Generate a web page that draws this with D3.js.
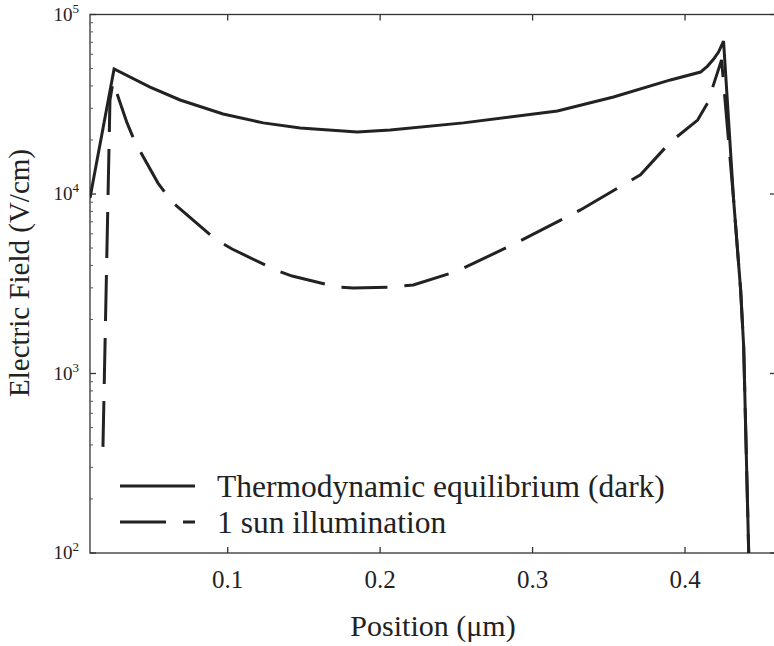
<!DOCTYPE html>
<html lang="en">

<head>
	<meta charset="utf-8">
	<title>Electric field profile</title>
	<script type="text/javascript" src="https://cdn.jsdelivr.net/npm/d3@7"></script>
	<style type="text/css">
		body { margin: 0; background: #fff; }
		text { font-family: "Liberation Serif", "Times New Roman", serif; fill: #222; }
	</style>
</head>

<body>
	<script type="text/javascript">
		//Width and height
		var w = 774;
		var h = 646;

		// data
		var darkX = [0.0100, 0.0258, 0.0494, 0.0691, 0.0973, 0.1236, 0.1479, 0.1853, 0.2070, 0.2550,
			0.3166, 0.3534, 0.3908, 0.4105, 0.4151, 0.4191, 0.4223, 0.4256, 0.4322, 0.4368,
			0.4388, 0.4421, 0.4430];
		var darkE = [9500, 49700, 39400, 33400, 27900, 24900, 23300, 22150, 22700, 24900,
			29000, 34700, 43200, 47800, 51600, 56500, 61800, 71100, 9270, 2920,
			1406, 100, 70];

		var sunX = [0.0185, 0.0231, 0.0251, 0.0343, 0.0395, 0.0546, 0.0638, 0.0921, 0.1032, 0.1315,
			0.1426, 0.1722, 0.1827, 0.2070, 0.2221, 0.2510, 0.2910, 0.3317, 0.3711, 0.3908,
			0.4086, 0.4151, 0.4243, 0.4322, 0.4368, 0.4388, 0.4421, 0.4430];
		var sunE = [390, 33400, 42100, 24900, 19500, 11500, 9020, 5610, 4940, 3780,
			3490, 3030, 2990, 3030, 3110, 3720, 5410, 8150, 12800, 19500,
			25800, 32100, 55900, 9270, 2920, 1406, 100, 70];

		var xTicks = [0.1, 0.2, 0.3, 0.4];
		var yTicks = [100, 1000, 10000, 100000];
		var legendLabels = ["Thermodynamic equilibrium (dark)", "1 sun illumination"];

		// plot box
		var pLeft = 90, pRight = 776, pTop = 14.5, pBottom = 553;

		// create scales
		var xScale = d3.scaleLinear()
			.domain([0.01, 0.46])
			.range([pLeft, pRight]);

		var yScale = d3.scaleLog()
			.domain([100, 100000])
			.range([pBottom, pTop]);

		//Create SVG element
		var svg = d3.select("body")
			.append("svg")
			.attr("width", w)
			.attr("height", h);

		svg.append("clipPath")
			.attr("id", "plotclip")
			.append("rect")
			.attr("x", pLeft)
			.attr("y", pTop)
			.attr("width", pRight - pLeft)
			.attr("height", pBottom - pTop);

		// frame
		svg.append("rect")
			.attr("x", pLeft)
			.attr("y", pTop)
			.attr("width", pRight - pLeft)
			.attr("height", pBottom - pTop)
			.attr("fill", "none")
			.attr("stroke", "#333")
			.attr("stroke-width", 1.3);

		// x ticks, bottom and top, pointing inward
		svg.append("g")
			.attr("transform", "translate(0," + pBottom + ")")
			.call(d3.axisBottom(xScale).tickValues(xTicks).tickSizeInner(-6).tickSizeOuter(0).tickFormat(d3.format(".1f")))
			.call(function (g) {
				g.select(".domain").remove();
				g.selectAll("line").attr("stroke", "#333").attr("stroke-width", 1.3);
				g.selectAll("text")
					.attr("y", 17)
					.attr("font-size", "25px")
					.attr("font-family", "Liberation Serif, serif")
					.attr("fill", "#222");
			});

		svg.append("g")
			.attr("transform", "translate(0," + pTop + ")")
			.call(d3.axisTop(xScale).tickValues(xTicks).tickSizeInner(-6).tickSizeOuter(0).tickFormat(""))
			.call(function (g) {
				g.select(".domain").remove();
				g.selectAll("line").attr("stroke", "#333").attr("stroke-width", 1.3);
			});

		// y ticks, left and right
		var minor = [];
		for (var dec = 100; dec < 100000; dec *= 10) {
			for (var k = 2; k < 10; k++) minor.push(dec * k);
		}

		svg.selectAll("line.minor")
			.data(minor)
			.enter()
			.append("line")
			.attr("class", "minor")
			.attr("x1", pLeft)
			.attr("x2", pLeft + 3)
			.attr("y1", function (d) { return yScale(d); })
			.attr("y2", function (d) { return yScale(d); })
			.attr("stroke", "#555")
			.attr("stroke-width", 1);

		svg.selectAll("line.ymajor")
			.data(yTicks)
			.enter()
			.append("line")
			.attr("class", "ymajor")
			.attr("x1", pLeft)
			.attr("x2", pLeft + 6)
			.attr("y1", function (d) { return yScale(d); })
			.attr("y2", function (d) { return yScale(d); })
			.attr("stroke", "#333")
			.attr("stroke-width", 1.3);

		svg.selectAll("line.yright")
			.data(yTicks)
			.enter()
			.append("line")
			.attr("class", "yright")
			.attr("x1", pRight - 6)
			.attr("x2", pRight)
			.attr("y1", function (d) { return yScale(d); })
			.attr("y2", function (d) { return yScale(d); })
			.attr("stroke", "#333")
			.attr("stroke-width", 1.3);

		var ylab = svg.selectAll("text.ylab")
			.data(yTicks)
			.enter()
			.append("text")
			.attr("class", "ylab")
			.attr("text-anchor", "end")
			.attr("x", pLeft - 11)
			.attr("y", function (d) { return yScale(d) + 6; })
			.attr("font-size", "19px");

		ylab.append("tspan").text("10");
		ylab.append("tspan")
			.attr("dy", -8)
			.attr("font-size", "13px")
			.text(function (d) { return Math.round(Math.log10(d)); });

		// axis titles
		svg.append("text")
			.attr("text-anchor", "middle")
			.attr("x", (pLeft + pRight) / 2)
			.attr("y", 636)
			.attr("font-size", "30px")
			.text("Position (\u03bcm)");

		svg.append("text")
			.attr("text-anchor", "middle")
			.attr("transform", "translate(29,273) rotate(-90)")
			.attr("font-size", "29px")
			.text("Electric Field (V/cm)");

		// curves
		var line = d3.line()
			.x(function (d) { return xScale(d[0]); })
			.y(function (d) { return yScale(d[1]); });

		var plot = svg.append("g").attr("clip-path", "url(#plotclip)");

		plot.append("path")
			.datum(d3.zip(darkX, darkE))
			.attr("d", line)
			.attr("fill", "none")
			.attr("stroke", "#222")
			.attr("stroke-width", 3)
			.attr("stroke-linejoin", "miter");

		plot.append("path")
			.datum(d3.zip(sunX, sunE))
			.attr("d", line)
			.attr("fill", "none")
			.attr("stroke", "#222")
			.attr("stroke-width", 3)
			.attr("stroke-dasharray", "46,17");

		// legend
		var legend = svg.selectAll("g.legend")
			.data(legendLabels)
			.enter()
			.append("g")
			.attr("class", "legend")
			.attr("transform", function (d, i) { return "translate(120," + (486 + i * 36) + ")"; });

		legend.append("line")
			.attr("x1", 0)
			.attr("x2", 75)
			.attr("stroke", "#222")
			.attr("stroke-width", 3)
			.attr("stroke-dasharray", function (d, i) { return i === 0 ? null : "46,17"; });

		legend.append("text")
			.attr("x", 97)
			.attr("y", 11)
			.attr("font-size", "31.5px")
			.text(function (d) { return d; });
	</script>
</body>

</html>
